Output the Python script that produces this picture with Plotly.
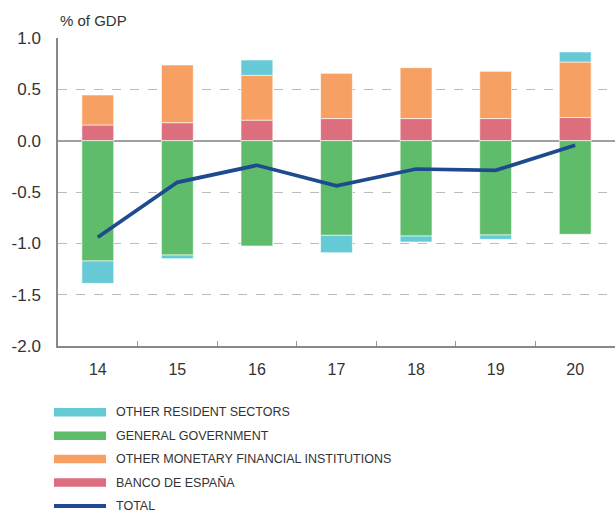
import plotly.graph_objects as go

# --- data ---
years = ["14", "15", "16", "17", "18", "19", "20"]

banco_espana = [0.153, 0.175, 0.200, 0.215, 0.215, 0.215, 0.225]
other_mfi = [0.292, 0.562, 0.436, 0.441, 0.496, 0.460, 0.541]
general_gov = [-1.172, -1.114, -1.026, -0.922, -0.929, -0.919, -0.912]
other_resident = [-0.218, -0.035, 0.150, -0.169, -0.058, -0.042, 0.098]
total = [-0.940, -0.406, -0.240, -0.440, -0.276, -0.289, -0.045]

y_ticks = [1.0, 0.5, 0.0, -0.5, -1.0, -1.5, -2.0]
y_ticklabels = ["1.0", "0.5", "0.0", "-0.5", "-1.0", "-1.5", "-2.0"]

C_ORS = "#65CAD6"
C_GG = "#5EBC6B"
C_OMFI = "#F7A064"
C_BDE = "#DC6E7E"
C_TOT = "#1E4B8F"

FONT = "Liberation Sans, Arial, sans-serif"

W, H = 615, 514
ML, MR, MT, MB = 58, 0, 38, 168
PW, PH = W - ML - MR, H - MT - MB

fig = go.Figure()

# stacking order: red then orange on top (positive), green then cyan below (negative)
bar_series = [
    ("BANCO DE ESPAÑA", banco_espana, C_BDE),
    ("OTHER MONETARY FINANCIAL INSTITUTIONS", other_mfi, C_OMFI),
    ("GENERAL GOVERNMENT", general_gov, C_GG),
    ("OTHER RESIDENT SECTORS", other_resident, C_ORS),
]
for name, vals, col in bar_series:
    fig.add_trace(go.Bar(
        x=years, y=vals, name=name, marker_color=col,
        marker_line=dict(color="rgba(255,255,255,0.6)", width=1),
        width=0.4, showlegend=False,
    ))

fig.add_trace(go.Scatter(
    x=years, y=total, mode="lines", name="TOTAL",
    line=dict(color=C_TOT, width=3.7), showlegend=False,
))

# --- legend below the plot: thick swatch + label, one row each ---
legend_items = [
    ("OTHER RESIDENT SECTORS", C_ORS, 8.5),
    ("GENERAL GOVERNMENT", C_GG, 8.5),
    ("OTHER MONETARY FINANCIAL INSTITUTIONS", C_OMFI, 8.5),
    ("BANCO DE ESPAÑA", C_BDE, 8.5),
    ("TOTAL", C_TOT, 4),
]


def px_x(px):
    return (px - ML) / PW


def px_y(py):
    return (H - MB - py) / PH


shapes = []
annotations = []
for i, (name, col, w) in enumerate(legend_items):
    row_y = px_y(412.3 + i * 23.4)
    shapes.append(dict(
        type="line", xref="paper", yref="paper",
        x0=px_x(54), x1=px_x(106), y0=row_y, y1=row_y,
        line=dict(color=col, width=w),
    ))
    annotations.append(dict(
        text=name, xref="paper", yref="paper", x=px_x(114), y=row_y,
        xanchor="left", yanchor="middle", showarrow=False,
        font=dict(size=12.5, color="#333333"),
    ))

annotations.append(dict(
    text="% of GDP", xref="paper", yref="paper", x=0, y=1.0,
    xanchor="left", yanchor="middle", yshift=17.5, showarrow=False,
    font=dict(size=15, color="#333333"),
))

fig.update_layout(
    width=W, height=H,
    barmode="relative",
    plot_bgcolor="white", paper_bgcolor="white",
    margin=dict(l=ML, r=MR, t=MT, b=MB),
    font=dict(family=FONT, color="#333333", size=16),
    showlegend=False,
    xaxis=dict(
        automargin=False,
        showgrid=False, showline=True, linecolor="#888888", linewidth=1.5,
        ticks="inside", tickson="boundaries", ticklen=5, tickcolor="#999999",
        tickfont=dict(size=16), ticklabelstandoff=8, range=[-0.5, 6.5],
    ),
    yaxis=dict(
        automargin=False,
        range=[-2.0, 1.0], tickvals=y_ticks, ticktext=y_ticklabels,
        showgrid=True, gridcolor="#BBBBBB", griddash="dash", gridwidth=1,
        showline=True, linecolor="#888888", linewidth=1.5,
        zeroline=True, zerolinecolor="#A0A0A0", zerolinewidth=1.5,
        ticks="", tickfont=dict(size=17), ticklabelstandoff=12,
    ),
    shapes=shapes,
    annotations=annotations,
)

# drop the browser's default 8px body margin so the figure fills the window
fig.write_html(
    "out.html",
    config={"displayModeBar": False},
    post_script="document.body.style.margin='0';",
)
